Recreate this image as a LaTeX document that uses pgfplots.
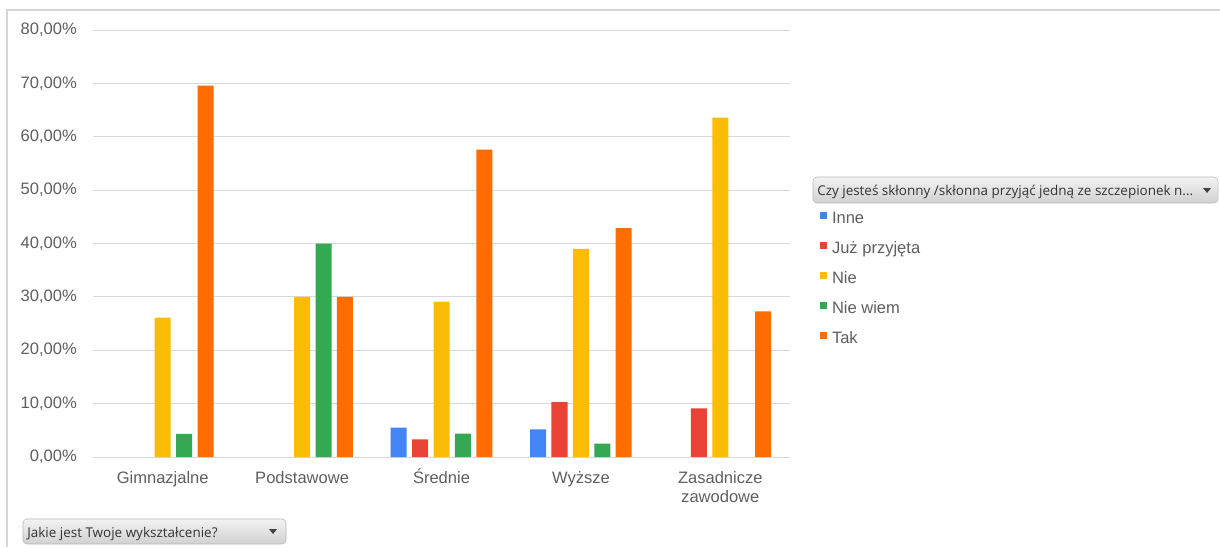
\documentclass[border=0pt]{standalone}
\usepackage{pgfplots}
\pgfplotsset{compat=1.18}
\usepackage{fontspec}
\setmainfont{Liberation Sans}
\newfontfamily\uifont{Open Sans}
\definecolor{cInne}{HTML}{4285F4}
\definecolor{cJuz}{HTML}{EA4335}
\definecolor{cNie}{HTML}{FBBC04}
\definecolor{cNW}{HTML}{34A853}
\definecolor{cTak}{HTML}{FF6D01}
\definecolor{txtgray}{HTML}{5F5F5F}
\definecolor{gridgray}{HTML}{D9D9D9}
\definecolor{framegray}{HTML}{D6D6D6}
\begin{document}
\begin{tikzpicture}
\begin{scope}[x=0.75pt,y=-0.75pt]
\useasboundingbox (0,0) rectangle (1220,547);
\fill[white] (0,0) rectangle (1220,547);
\draw[framegray, line width=1.5pt] (7,547) -- (7,10) -- (1220,10);
\end{scope}
\begin{axis}[
  at={(69.75pt,-342.75pt)}, anchor=south west,
  scale only axis, width=522.75pt, height=320.25pt,
  xmin=-0.5, xmax=4.5, ymin=0, ymax=80,
  ybar=4.05pt, bar width=12pt,
  axis line style={draw=none},
  major tick length=0pt,
  ymajorgrids, grid style={gridgray, line width=0.75pt},
  xtick={0,1,2,3,4},
  xticklabels={Gimnazjalne,Podstawowe,{\smash{Ś}rednie},Wyższe,{Zasadnicze\\zawodowe}},
  ytick={0,10,20,30,40,50,60,70,80},
  yticklabels={{0,00\%},{10,00\%},{20,00\%},{30,00\%},{40,00\%},{50,00\%},{60,00\%},{70,00\%},{80,00\%}},
  tick label style={font=\fontsize{12.4}{14.6}\selectfont, text=txtgray},
  yticklabel style={inner sep=0pt, xshift=-12pt},
  xticklabel style={inner sep=0pt, yshift=-10.5pt, align=center},
  legend style={at={(1.04304,0.57611)}, anchor=north west, draw=none, fill=none,
    inner sep=0pt, outer sep=0pt, row sep=10.5pt, column sep=3.75pt,
    nodes={inner sep=0pt, text height=9pt, text depth=3pt, text=txtgray,
      font=\fontsize{12.4}{14}\selectfont}},
  legend cell align=left,
  legend image code/.code={\fill[#1] (0pt,0pt) rectangle (5.25pt,5.25pt);},
]
\addplot[fill=cInne, draw=none] coordinates {(2,5.5) (3,5.2)};
\addplot[fill=cJuz, draw=none] coordinates {(2,3.3) (3,10.3) (4,9.1)};
\addplot[fill=cNie, draw=none] coordinates {(0,26.1) (1,30) (2,29.1) (3,39.0) (4,63.6)};
\addplot[fill=cNW, draw=none] coordinates {(0,4.35) (1,40) (2,4.4) (3,2.5)};
\addplot[fill=cTak, draw=none] coordinates {(0,69.6) (1,30) (2,57.6) (3,42.9) (4,27.3)};
\legend{Inne,Już przyjęta,Nie,Nie wiem,Tak}
\end{axis}
\begin{scope}[x=0.75pt,y=-0.75pt]
\shade[top color=white!95!black, bottom color=white!82!black, draw=black!28, rounded corners=3pt] (813,177) rectangle (1218,203);
\node[anchor=base west, inner sep=0pt, font=\uifont\fontsize{10.1}{12}\selectfont, text=black!80] at (817,195) {Czy jesteś skłonny /skłonna przyjąć jedną ze szczepionek n...};
\fill[black!75] (1203,188) -- (1211,188) -- (1207,193) -- cycle;
\shade[top color=white!95!black, bottom color=white!82!black, draw=black!28, rounded corners=3pt] (23,519) rectangle (286,544);
\node[anchor=base west, inner sep=0pt, font=\uifont\fontsize{10.1}{12}\selectfont, text=black!80] at (27,537) {Jakie jest Twoje wykształcenie?};
\fill[black!75] (269,529) -- (277,529) -- (273,534) -- cycle;
\end{scope}
\end{tikzpicture}
\end{document}
